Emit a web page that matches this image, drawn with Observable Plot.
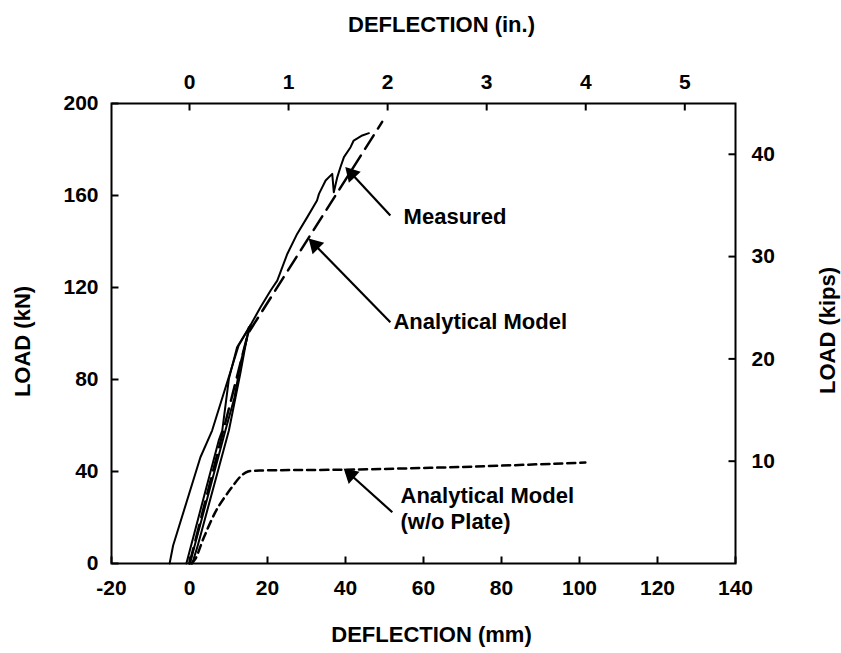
<!DOCTYPE html>
<html>
<head>
<meta charset="utf-8">
<script src="https://cdn.jsdelivr.net/npm/d3@7"></script>
<script src="https://cdn.jsdelivr.net/npm/@observablehq/plot@0.6"></script>
<style>
  html, body { margin: 0; padding: 0; background: #fff; }
  #chart svg { display: block; }
</style>
</head>
<body>
<div id="chart"></div>
<script>
// ---------- axis ticks ----------
const mmTicks = [-20, 0, 20, 40, 60, 80, 100, 120, 140];
const kNTicks = [0, 40, 80, 120, 160, 200];
const inchTicks = [0, 1, 2, 3, 4, 5];
const kipTicks = [10, 20, 30, 40];
const MM_PER_IN = 25.4;
const KN_PER_KIP = 4.448;

// ---------- measured (deflection mm, load kN) ----------
const measuredCycle1 = [[-5.1, 0], [-4.2, 7.8], [2.8, 46.2], [5.8, 57.8], [12.6, 94.8], [15.6, 103.5]];
const measuredCycle2 = [[-0.8, 0], [7.5, 53.5], [8.4, 57.8], [10.1, 80.3], [12.2, 94], [15.6, 103.5]];
const measuredCycle3 = [[0.1, 0], [9.2, 57.8], [11.5, 72], [13.2, 88], [15.6, 103.5]];
const measuredCycle4 = [[0.7, 0], [2.0, 7.1], [10.1, 57.8], [13.1, 83.2], [15.2, 102.7]];
const measuredEnvelope = [
  [15.6, 103.5], [18.2, 111.4], [20.8, 118.7], [22.5, 123.0], [25.1, 134.7],
  [27.6, 143.3], [30.2, 150.6], [32.7, 157.8], [33.2, 160.7], [34.9, 166.5],
  [36.6, 169.4], [37.0, 161.4], [37.9, 168.0], [38.7, 172.3], [39.6, 176.7],
  [41.3, 181.0], [42.1, 183.9], [44.3, 186.1], [46.0, 187.1]
];

// ---------- analytical models ----------
const analyticalModel = [[0, 0], [15, 100], [49.4, 192]];
const analyticalNoPlate = [
  [0.5, 0], [1.5, 2], [3.7, 11.4], [7.1, 23.8], [10.9, 33.2], [13.3, 38.2],
  [15, 40], [18, 40.4], [40, 40.8], [70, 42], [101.5, 43.9]
];

// ---------- annotations ----------
const labelText = ["Measured", "Analytical Model", "Analytical Model\n(w/o Plate)"];
const labelX = [54.9, 52.3, 54.1];
const labelY = [151.3, 105.4, 24.3];
const arrowTail = [[51.5, 151.3], [51.5, 104.9], [52.0, 22.3]];
const arrowTip = [[40.0, 172.3], [30.6, 141.2], [39.6, 41.2]];

// ---------- layout ----------
const W = 841, H = 653;
const M = {top: 103, right: 106, bottom: 90, left: 111};
const X_DOMAIN = [-20, 140], Y_DOMAIN = [0, 200];
const frameW = W - M.left - M.right, frameH = H - M.top - M.bottom;
const kx = frameW / (X_DOMAIN[1] - X_DOMAIN[0]);  // px per mm
const ky = frameH / (Y_DOMAIN[1] - Y_DOMAIN[0]);  // px per kN
const TICK = 7;

const toRows = (pts, series) => pts.map(([x, y]) => ({x, y, series}));
const measuredRows = [
  ...toRows(measuredCycle1, "c1"), ...toRows(measuredCycle2, "c2"),
  ...toRows(measuredCycle3, "c3"), ...toRows(measuredCycle4, "c4"),
  ...toRows(measuredEnvelope, "env")
];

const arrows = arrowTail.map((t, i) => {
  const tip = arrowTip[i];
  const sx = (tip[0] - t[0]) * kx, sy = -(tip[1] - t[1]) * ky;
  const len = Math.hypot(sx, sy);
  const ux = sx / len, uy = sy / len;
  const back = 9;
  return {
    x1: t[0], y1: t[1],
    cx: tip[0] - back * ux / kx, cy: tip[1] + back * uy / ky,
    angle: Math.atan2(sx, -sy) * 180 / Math.PI
  };
});
const labels = labelText.map((text, i) => ({text, x: labelX[i], y: labelY[i]}));

const inchMm = inchTicks.map(d => d * MM_PER_IN);
const kipKN = kipTicks.map(d => d * KN_PER_KIP);
const tx = TICK / kx, ty = TICK / ky;
const tickSegs = [
  ...mmTicks.map(v => ({x1: v, x2: v, y1: Y_DOMAIN[0], y2: Y_DOMAIN[0] + ty})),
  ...inchMm.map(v => ({x1: v, x2: v, y1: Y_DOMAIN[1], y2: Y_DOMAIN[1] - ty})),
  ...kNTicks.map(v => ({x1: X_DOMAIN[0], x2: X_DOMAIN[0] + tx, y1: v, y2: v})),
  ...kipKN.map(v => ({x1: X_DOMAIN[1], x2: X_DOMAIN[1] - tx, y1: v, y2: v}))
];
const font = "'Liberation Sans', Arial, Helvetica, sans-serif";

const chart = Plot.plot({
  width: W, height: H,
  marginTop: M.top, marginRight: M.right, marginBottom: M.bottom, marginLeft: M.left,
  style: {fontFamily: font, fontSize: "21px", fontWeight: "bold", color: "#000", background: "#fff"},
  x: {domain: X_DOMAIN},
  y: {domain: Y_DOMAIN},
  marks: [
    // tick labels
    Plot.axisX(mmTicks, {anchor: "bottom", tickSize: 0, tickPadding: 17, label: null, fill: "#000", tickFormat: d => String(d)}),
    Plot.axisX(inchMm, {anchor: "top", tickSize: 0, tickPadding: 15, label: null, fill: "#000",
      tickFormat: d => String(Math.round(d / MM_PER_IN))}),
    Plot.axisY(kNTicks, {anchor: "left", tickSize: 0, tickPadding: 13, label: null, fill: "#000", tickFormat: d => String(d)}),
    Plot.axisY(kipKN, {anchor: "right", tickSize: 0, tickPadding: 16, label: null, fill: "#000",
      tickFormat: d => String(Math.round(d / KN_PER_KIP))}),
    // inward tick marks
    Plot.link(tickSegs, {x1: "x1", y1: "y1", x2: "x2", y2: "y2", stroke: "#000", strokeWidth: 2}),
    Plot.frame({stroke: "#000", strokeWidth: 2}),

    // axis titles
    Plot.text(["DEFLECTION (in.)"], {frameAnchor: "top", dy: -79, dx: 18, textAnchor: "middle", lineAnchor: "middle", fontSize: 22}),
    Plot.text(["DEFLECTION (mm)"], {frameAnchor: "bottom", dy: 71, dx: 8, textAnchor: "middle", lineAnchor: "middle", fontSize: 22}),
    Plot.text(["LOAD (kN)"], {frameAnchor: "left", dx: -89, dy: 8, rotate: -90, textAnchor: "middle", lineAnchor: "middle", fontSize: 22}),
    Plot.text(["LOAD (kips)"], {frameAnchor: "right", dx: 92, dy: -3, rotate: -90, textAnchor: "middle", lineAnchor: "middle", fontSize: 22}),

    // data
    Plot.line(measuredRows, {x: "x", y: "y", z: "series", stroke: "#000", strokeWidth: 2, curve: "linear"}),
    Plot.line(analyticalModel, {x: d => d[0], y: d => d[1], stroke: "#000", strokeWidth: 2.5, strokeDasharray: "16,8"}),
    Plot.line(analyticalNoPlate, {x: d => d[0], y: d => d[1], stroke: "#000", strokeWidth: 2.5, strokeDasharray: "8,5", curve: "catmull-rom"}),

    // annotation arrows
    Plot.link(arrows, {x1: "x1", y1: "y1", x2: "cx", y2: "cy", stroke: "#000", strokeWidth: 2.2}),
    Plot.dot(arrows, {x: "cx", y: "cy", symbol: "triangle", r: 6, fill: "#000", stroke: "none", rotate: "angle"}),
    Plot.text(labels, {x: "x", y: "y", text: "text", textAnchor: "start", lineAnchor: "middle", lineHeight: 1.18, fontSize: 22, fill: "#000"})
  ]
});
document.getElementById("chart").appendChild(chart);
</script>
</body>
</html>
